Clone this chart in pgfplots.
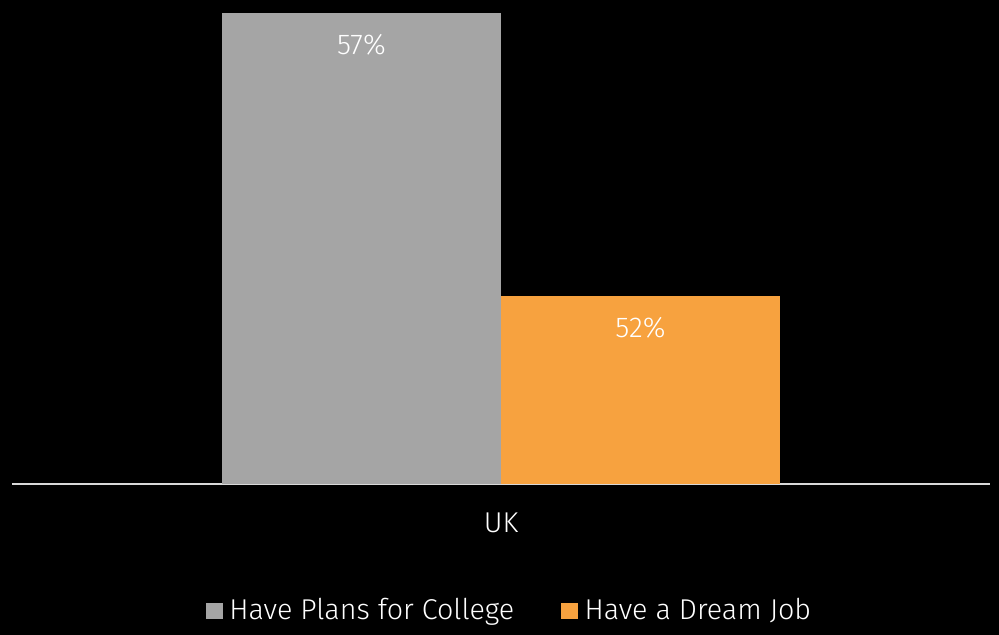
\documentclass[border=0pt]{standalone}
\usepackage{pgfplots}
\pgfplotsset{compat=1.18}
\usepackage{fontspec}
\setmainfont{Fira Sans}[UprightFont=* Light]
\definecolor{cgray}{HTML}{A5A5A5}
\definecolor{corange}{HTML}{F7A23F}
\definecolor{caxis}{HTML}{D9D9D9}
\newcommand{\chartfont}{\fontsize{21.5}{25}\selectfont}
\begin{document}
\begin{tikzpicture}
\fill[black] (0pt,0pt) rectangle (749.25pt,476.25pt);
\useasboundingbox (0pt,0pt) rectangle (749.25pt,476.25pt);
\begin{axis}[
  at={(9pt,113.25pt)}, anchor=south west,
  width=733.5pt, height=353.25pt, scale only axis,
  xmin=-1, xmax=1, ymin=48.68, ymax=57,
  axis y line=none, axis x line*=bottom,
  x axis line style={draw=caxis, line width=1.5pt, -},
  ytick=\empty, xtick={0}, xticklabels={UK}, major tick length=0pt,
  xticklabel style={font=\chartfont, text=white, anchor=center, yshift=-29pt},
  /pgf/number format/assume math mode=true,
  ybar, bar width=0.5706,
  nodes near coords={\pgfmathprintnumber{\pgfplotspointmeta}\%},
  nodes near coords style={font=\chartfont, text=white, anchor=center, yshift=-24pt},
  legend style={at={(0.509,-0.2675)}, anchor=center, draw=none, fill=none,
    text=white, font=\chartfont, legend columns=2,
    /tikz/every odd column/.append style={column sep=3pt},
    /tikz/every even column/.append style={column sep=33pt}},
  legend image code/.code={\fill[#1] (0pt,-6.5pt) rectangle (12.75pt,5.5pt);},
]
\addplot[fill=cgray, draw=none, bar shift=-0.2853] coordinates {(0,57)};
\addplot[fill=corange, draw=none, bar shift=0.2853] coordinates {(0,52)};
\legend{Have Plans for College, Have a Dream Job}
\end{axis}
\end{tikzpicture}
\end{document}
